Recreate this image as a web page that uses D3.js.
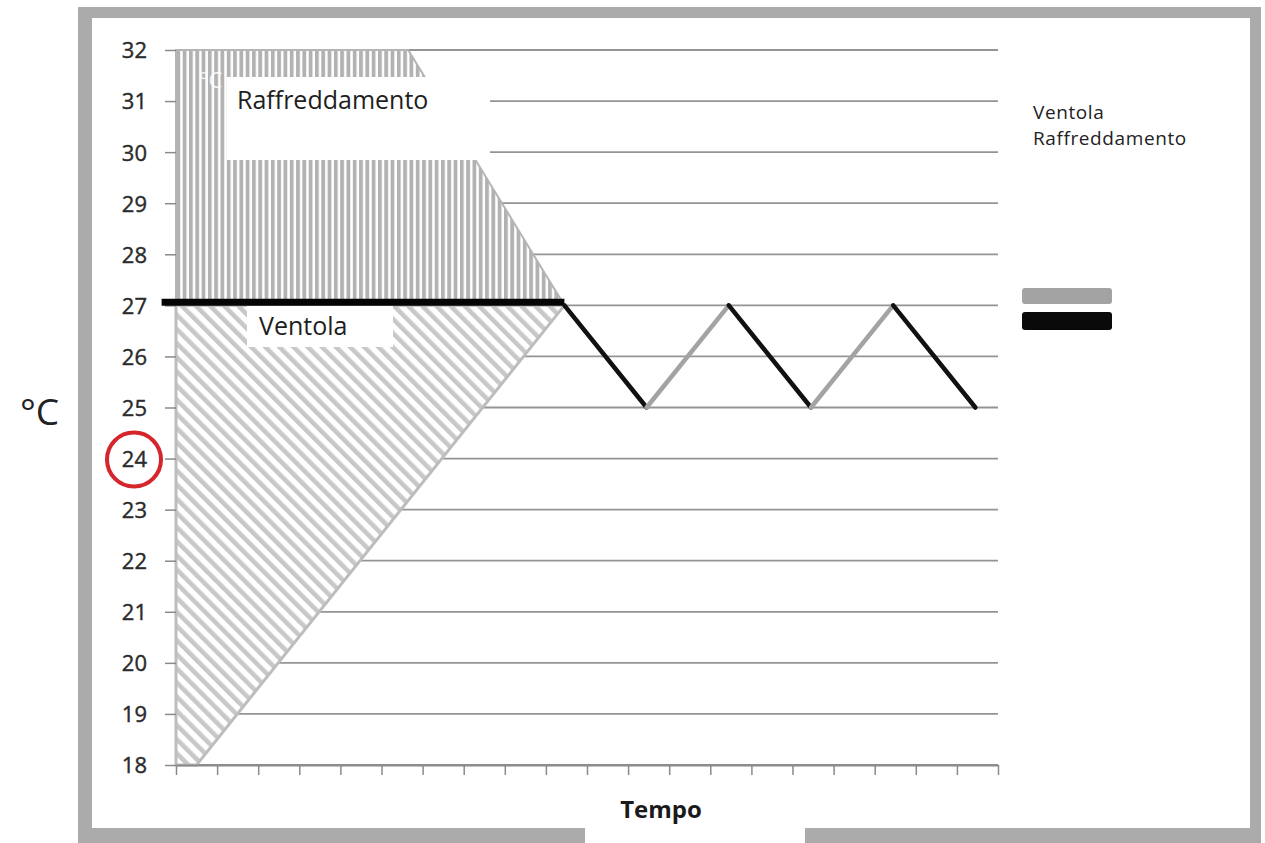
<!DOCTYPE html>
<html>
<head>
<meta charset="utf-8">
<script src="https://cdn.jsdelivr.net/npm/d3@7"></script>
<style>
  body { margin: 0; background: #fff; }
  svg text { font-family: "Open Sans", sans-serif; }
</style>
</head>
<body>
<script>
// tick labels on the temperature axis
const gradi = [18, 19, 20, 21, 22, 23, 24, 25, 26, 27, 28, 29, 30, 31, 32];
// time steps (unlabelled ticks)
const passi = d3.range(0, 21);

// Ventola (fan) zone: triangle between 18 and 27
const ventolaT = [0, 0.5, 9.45];
const ventolaBasso = [18, 18, 27];
const ventolaAlto = [27, 27, 27];

// Raffreddamento (cooling) zone: above 27
const raffT = [0, 5.65, 9.45];
const raffAlto = [32, 32, 27];
const raffBasso = [27, 27, 27];

// setpoint line at 27
const sogliaT = [-0.35, 9.45];
const sogliaV = [27, 27];

// on/off cycle after reaching the setpoint
const cicloT = [9.45, 11.45, 13.45, 15.45, 17.45, 19.45];
const cicloV = [27, 25, 27, 25, 27, 25];

const legenda = ["Ventola", "Raffreddamento"];
const coloriLegenda = ["#a3a3a3", "#0a0a0a"];

const w = 1265, h = 843;
const svg = d3.select("body").append("svg")
  .attr("width", w).attr("height", h);

// frame
svg.append("rect").attr("x", 78).attr("y", 7).attr("width", 1183).attr("height", 840)
  .attr("fill", "#ababab");
svg.append("rect").attr("x", 92).attr("y", 18).attr("width", 1158).attr("height", 810)
  .attr("fill", "#fff");
svg.append("rect").attr("x", 585).attr("y", 826).attr("width", 220).attr("height", 20)
  .attr("fill", "#fff");

const x = d3.scaleLinear().domain([0, 20]).range([176, 998]);
const y = d3.scaleLinear().domain([18, 32]).range([765, 50]);

const defs = svg.append("defs");
defs.append("pattern").attr("id", "vert")
  .attr("patternUnits", "userSpaceOnUse").attr("width", 6.3).attr("height", 10)
  .append("rect").attr("width", 3.8).attr("height", 10).attr("fill", "#b2b2b2");
defs.append("pattern").attr("id", "diag")
  .attr("patternUnits", "userSpaceOnUse").attr("width", 10).attr("height", 10)
  .attr("patternTransform", "rotate(-45)")
  .append("rect").attr("width", 4.6).attr("height", 10).attr("fill", "#c8c8c8");

// grid
svg.append("g").selectAll("line").data(gradi).join("line")
  .attr("x1", x(0)).attr("x2", x(20))
  .attr("y1", d => y(d)).attr("y2", d => y(d))
  .attr("stroke", "#949494").attr("stroke-width", 1.8);

function zona(ts, bassi, alti) {
  return d3.area()
    .x((d, i) => x(ts[i]))
    .y0((d, i) => y(bassi[i]))
    .y1((d, i) => y(alti[i]))(ts);
}

const dV = zona(ventolaT, ventolaBasso, ventolaAlto);
svg.append("path").attr("d", dV).attr("fill", "#fff");
svg.append("path").attr("d", dV).attr("fill", "url(#diag)")
  .attr("stroke", "#bdbdbd").attr("stroke-width", 3);

const dR = zona(raffT, raffBasso, raffAlto);
svg.append("path").attr("d", dR).attr("fill", "#fff");
svg.append("path").attr("d", dR).attr("fill", "url(#vert)")
  .attr("stroke", "#b5b5b5").attr("stroke-width", 2);

// faint leftover label
svg.append("text").attr("x", 199).attr("y", 88).text("°C")
  .attr("font-size", 22).attr("fill", "#fff").attr("opacity", 0.85);

// label boxes
svg.append("rect").attr("x", 227).attr("y", 77).attr("width", 263).attr("height", 83).attr("fill", "#fff");
svg.append("text").attr("x", 237).attr("y", 109).text("Raffreddamento")
  .attr("font-size", 25).attr("fill", "#1e1e1e");
svg.append("rect").attr("x", 247).attr("y", 306).attr("width", 146).attr("height", 41).attr("fill", "#fff");
svg.append("text").attr("x", 259).attr("y", 335).text("Ventola")
  .attr("font-size", 25).attr("fill", "#1e1e1e");

// axes
const yAxis = svg.append("g").attr("transform", `translate(${x(0)},0)`)
  .call(d3.axisLeft(y).tickValues(gradi).tickSize(11).tickPadding(18).tickFormat(d3.format("d")));
yAxis.select(".domain").remove();
yAxis.selectAll("line").attr("stroke", "#8a8a8a").attr("stroke-width", 1.5);
yAxis.selectAll("text").attr("font-family", "Liberation Sans, sans-serif")
  .attr("font-size", 22).attr("fill", "#2b2b2b").attr("stroke", "#2b2b2b")
  .attr("stroke-width", 0.4).attr("dy", "0.36em");

const xAxis = svg.append("g").attr("transform", `translate(0,${y(18)})`)
  .call(d3.axisBottom(x).tickValues(passi).tickSize(10).tickSizeOuter(0).tickFormat(""));
xAxis.select(".domain").attr("stroke", "#8a8a8a").attr("stroke-width", 1.8);
xAxis.selectAll("line").attr("stroke", "#8a8a8a").attr("stroke-width", 1.5);

// setpoint line
const linea = d3.line().x(d => x(d[0])).y(d => y(d[1]));
svg.append("path")
  .attr("d", linea(d3.zip(sogliaT, sogliaV)))
  .attr("transform", "translate(0,-3)")
  .attr("stroke", "#050505").attr("stroke-width", 7).attr("fill", "none");

// cycle segments: up = gray, down = black
const segmenti = d3.range(cicloT.length - 1).map(i => ({
  a: [cicloT[i], cicloV[i]], b: [cicloT[i + 1], cicloV[i + 1]],
  su: cicloV[i + 1] > cicloV[i]
}));
svg.append("g").selectAll("path").data(segmenti).join("path")
  .attr("d", d => linea([d.a, d.b]))
  .attr("stroke", d => d.su ? coloriLegenda[0] : "#111")
  .attr("stroke-width", 4.5).attr("stroke-linecap", "round").attr("fill", "none");

// axis titles
svg.append("text").attr("x", 20).attr("y", 425).text("°C")
  .attr("font-family", "Liberation Sans, sans-serif").attr("font-size", 37).attr("fill", "#222");
svg.append("text").attr("x", 661).attr("y", 818).attr("text-anchor", "middle").text("Tempo")
  .attr("font-size", 24).attr("font-weight", "bold").attr("fill", "#1a1a1a");

// red circle on 24
svg.append("circle").attr("cx", 134).attr("cy", y(24) + 1).attr("r", 27)
  .attr("fill", "none").attr("stroke", "#d4262c").attr("stroke-width", 4);

// legend
svg.append("g").selectAll("text").data(legenda).join("text")
  .attr("x", 1033).attr("y", (d, i) => 119 + i * 26)
  .text(d => d).attr("font-size", 19).attr("letter-spacing", 0.6).attr("fill", "#222");
svg.append("g").selectAll("rect").data(coloriLegenda).join("rect")
  .attr("x", 1022).attr("y", (d, i) => 288 + i * 24)
  .attr("width", 90).attr("height", (d, i) => i ? 18 : 16).attr("rx", 3)
  .attr("fill", d => d);
</script>
</body>
</html>
